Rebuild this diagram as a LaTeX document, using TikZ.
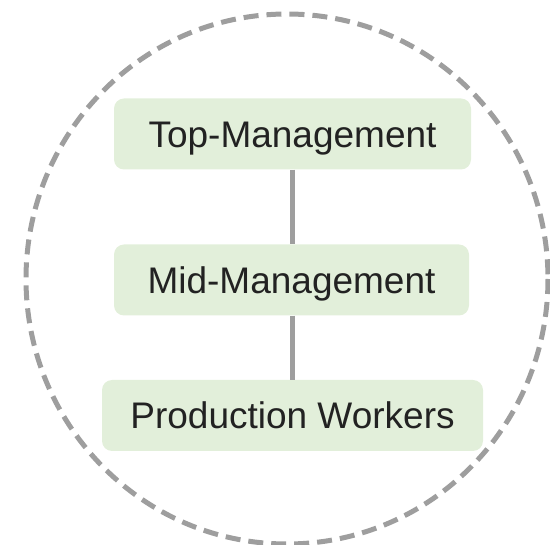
\documentclass[tikz,border=0pt]{standalone}
\usepackage{fontspec}
\setmainfont{Liberation Sans}
\definecolor{ringgray}{RGB}{158,158,158}
\definecolor{boxgreen}{RGB}{226,239,218}
\definecolor{txtdark}{RGB}{34,34,34}
\begin{document}
\begin{tikzpicture}[x=1pt,y=-1pt,
    level/.style={fill=boxgreen,rounded corners=10pt,minimum height=71pt,inner sep=0pt,
        text=txtdark,font=\fontsize{37}{44}\selectfont,text height=26.5pt,text depth=0pt},
    link/.style={draw=ringgray,line width=5pt}]
                \useasboundingbox (0,0) rectangle (550,545);
                \draw[ringgray,line width=5pt,dash pattern=on 15pt off 8pt] (287,279) ellipse (261 and 265);

                \node[level,minimum width=357pt] (top) at (292.5,134) {Top-Management};
                \node[level,minimum width=355pt] (mid) at (291.5,280) {Mid-Management};
                \node[level,minimum width=381pt] (prod) at (292.5,415.5) {Production Workers};

                \draw[link] (top.south -| 292,0) -- (mid.north -| 292,0);
                \draw[link] (mid.south -| 292,0) -- (prod.north -| 292,0);
            \end{tikzpicture}
\end{document}
